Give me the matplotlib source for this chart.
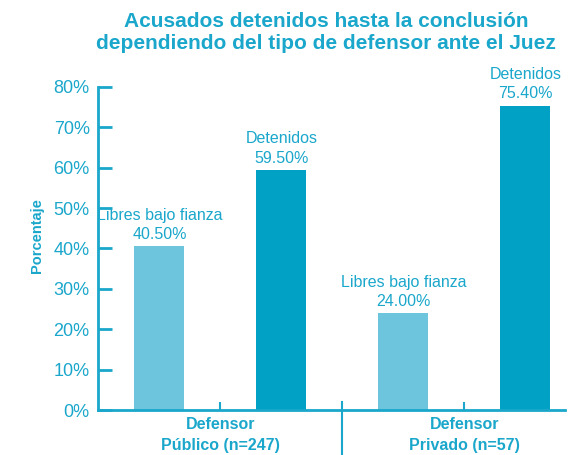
import matplotlib.pyplot as plt
import numpy as np

plt.rcParams['font.family'] = ['Liberation Sans', 'DejaVu Sans']

groups = ['Defensor\nPúblico (n=247)', 'Defensor\nPrivado (n=57)']
series = ['Libres bajo fianza', 'Detenidos']
libres = [40.5, 24.0]
detenidos = [59.5, 75.4]
yticks = [0, 10, 20, 30, 40, 50, 60, 70, 80]

TEXT = '#1aa7cb'
LIGHT = '#6cc5dd'
DARK = '#00a1c5'


def main():
    fig = plt.figure(figsize=(5.71, 4.55), dpi=100)
    ax = fig.add_axes([0.1716, 0.0989, 0.8179, 0.7099])

    x = np.arange(len(groups))
    w = 0.205
    off = 0.25
    b1 = ax.bar(x - off, libres, w, color=LIGHT)
    b2 = ax.bar(x + off, detenidos, w, color=DARK)

    for bars, name in ((b1, series[0]), (b2, series[1])):
        for bar in bars:
            h = bar.get_height()
            ax.annotate('%s\n%.2f%%' % (name, h),
                        (bar.get_x() + bar.get_width() / 2, h),
                        xytext=(0, 3), textcoords='offset points',
                        ha='center', va='bottom', fontsize=11.5,
                        color=TEXT, linespacing=1.35)

    ax.set_xlim(-0.502, 1.412)
    ax.set_ylim(0, 80)
    ax.set_yticks(yticks)
    ax.set_yticklabels(['%d%%' % v for v in yticks], fontsize=13, color=TEXT)
    ax.tick_params(axis='y', direction='in', length=10, width=2,
                   color=TEXT, pad=6)
    ax.set_xticks(x)
    ax.set_xticklabels(groups, fontsize=11.5, fontweight='bold', color=TEXT,
                       linespacing=1.5)
    ax.tick_params(axis='x', direction='in', length=6, width=1.5,
                   color=TEXT, pad=5)

    for side in ('top', 'right'):
        ax.spines[side].set_visible(False)
    for side in ('left', 'bottom'):
        ax.spines[side].set_color(TEXT)
        ax.spines[side].set_linewidth(2)

    # separator between the two groups, running below the axis
    ax.plot([0.5, 0.5], [2, -11.3], color=TEXT, lw=1.5, clip_on=False)

    ax.set_ylabel('Porcentaje', fontsize=10.5, fontweight='bold', color=TEXT)
    ax.yaxis.set_label_coords(-0.115, 0.54)

    fig.text(0.571, 0.9286,
             'Acusados detenidos hasta la conclusión\n'
             'dependiendo del tipo de defensor ante el Juez',
             ha='center', va='center', fontsize=15, fontweight='bold',
             color=TEXT, linespacing=1.2)

    plt.savefig('out.png', dpi=100)


if __name__ == '__main__':
    main()
